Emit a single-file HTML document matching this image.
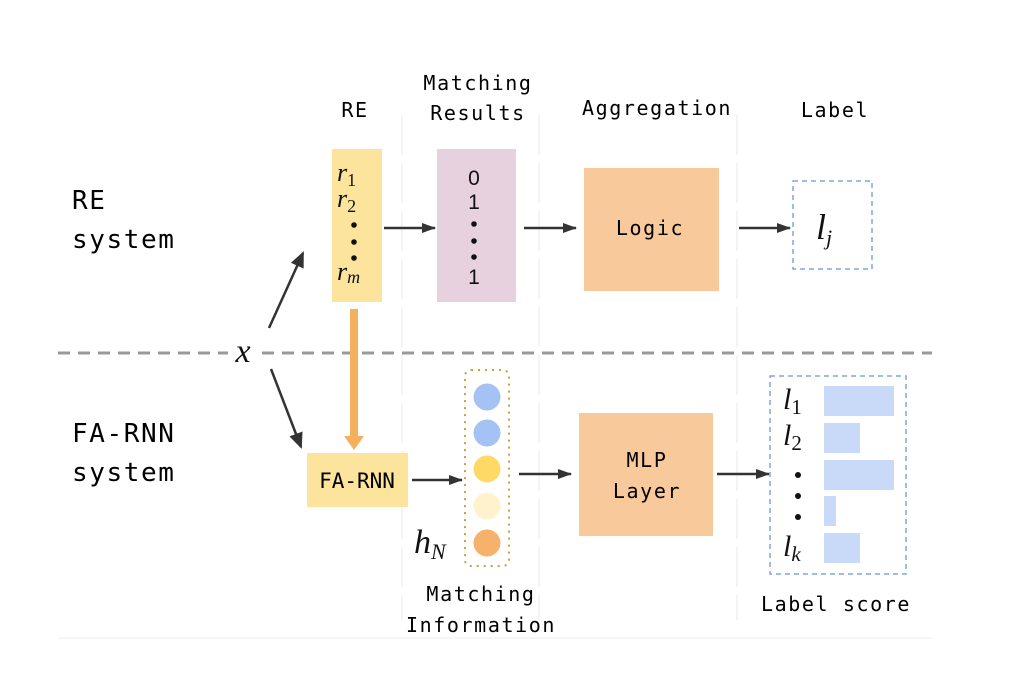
<!DOCTYPE html>
<html><head><meta charset="utf-8"><style>
html,body{margin:0;padding:0;background:#fff;width:1023px;height:681px;overflow:hidden}
svg{display:block}
.m{font-family:"DejaVu Sans Mono","Liberation Mono",monospace;fill:#000}
.h{font-size:20px;letter-spacing:1.6px}
.b{font-size:26px;letter-spacing:1.6px}
.s{font-family:"Liberation Serif",serif;font-style:italic;fill:#111}
.n{font-family:"Liberation Sans",sans-serif;fill:#111;font-size:21px}
</style></head><body>
<svg width="1023" height="681" viewBox="0 0 1023 681" xmlns="http://www.w3.org/2000/svg">
<defs>
<marker id="ar" markerWidth="14" markerHeight="10" refX="13" refY="5" orient="auto" markerUnits="userSpaceOnUse"><path d="M0,0 L14,5 L0,10 z" fill="#333"/></marker>
<marker id="arb" markerWidth="16" markerHeight="14" refX="14" refY="7" orient="auto" markerUnits="userSpaceOnUse"><path d="M0,0 L16,7 L0,14 z" fill="#333"/></marker>
</defs>
<g stroke="#f4f4f4" stroke-width="2" stroke-dasharray="40,8">
<line x1="402" y1="115" x2="402" y2="620"/>
<line x1="539" y1="115" x2="539" y2="620"/>
<line x1="737" y1="115" x2="737" y2="620"/>
</g>
<line x1="58" y1="638" x2="932" y2="638" stroke="#f4f4f4" stroke-width="1.5"/>
<text class="m h" x="355" y="117" text-anchor="middle">RE</text>
<text class="m h" x="478" y="90" text-anchor="middle">Matching</text>
<text class="m h" x="478" y="120" text-anchor="middle">Results</text>
<text class="m h" x="657" y="115" text-anchor="middle">Aggregation</text>
<text class="m h" x="835" y="117" text-anchor="middle">Label</text>
<text class="m b" x="72" y="209">RE</text>
<text class="m b" x="72" y="248">system</text>
<text class="m b" x="72" y="442">FA-RNN</text>
<text class="m b" x="72" y="481">system</text>
<line x1="58" y1="353" x2="228" y2="353" stroke="#9a9a9a" stroke-width="3" stroke-dasharray="12,8"/>
<line x1="262" y1="353" x2="932" y2="353" stroke="#9a9a9a" stroke-width="3" stroke-dasharray="12,8"/>
<text class="s" x="243" y="362" font-size="34" text-anchor="middle">x</text>
<line x1="269" y1="328" x2="303" y2="253" stroke="#333" stroke-width="2.5" marker-end="url(#arb)"/>
<line x1="271" y1="369" x2="301" y2="447" stroke="#333" stroke-width="2.5" marker-end="url(#arb)"/>
<rect x="332" y="149" width="50" height="153" fill="#fde49c"/>
<text class="s" x="337" y="181" font-size="26">r<tspan font-size="18" font-style="normal" dy="5">1</tspan></text>
<text class="s" x="337" y="207" font-size="26">r<tspan font-size="18" font-style="normal" dy="5">2</tspan></text>
<circle cx="354" cy="225" r="2.8" fill="#111"/><circle cx="354" cy="242" r="2.8" fill="#111"/><circle cx="354" cy="258" r="2.8" fill="#111"/>
<text class="s" x="337" y="280" font-size="26">r<tspan font-size="18" dy="3">m</tspan></text>
<line x1="354" y1="309" x2="354" y2="438" stroke="#f5b05e" stroke-width="8"/>
<path d="M344,436 L364,436 L354,450 z" fill="#f5b05e"/>
<rect x="437" y="149" width="79" height="153" fill="#e8d1df"/>
<text class="n" x="474" y="185" text-anchor="middle">0</text>
<text class="n" x="474" y="209" text-anchor="middle">1</text>
<circle cx="474" cy="224" r="2.8" fill="#111"/><circle cx="474" cy="241" r="2.8" fill="#111"/><circle cx="474" cy="257" r="2.8" fill="#111"/>
<text class="n" x="474" y="284" text-anchor="middle">1</text>
<line x1="384" y1="228" x2="435" y2="228" stroke="#333" stroke-width="2.5" marker-end="url(#ar)"/>
<line x1="524" y1="228" x2="576" y2="228" stroke="#333" stroke-width="2.5" marker-end="url(#ar)"/>
<rect x="584" y="168" width="135" height="123" fill="#f8c99b"/>
<text class="m h" x="650" y="235" text-anchor="middle">Logic</text>
<line x1="739" y1="228" x2="790" y2="228" stroke="#333" stroke-width="2.5" marker-end="url(#ar)"/>
<rect x="793" y="181" width="79" height="88" fill="none" stroke="#7da7e0" stroke-width="1.5" stroke-dasharray="5,4"/>
<text class="s" x="816" y="239" font-size="36">l<tspan font-size="22" dy="6">j</tspan></text>
<rect x="307" y="453" width="101" height="54" fill="#fde49c"/>
<text class="m" x="357" y="488" font-size="21" text-anchor="middle">FA-RNN</text>
<line x1="412" y1="480" x2="462" y2="480" stroke="#333" stroke-width="2.5" marker-end="url(#ar)"/>
<rect x="465" y="370" width="44" height="196" rx="6" fill="none" stroke="#c9a040" stroke-width="2" stroke-dasharray="2,5"/>
<circle cx="487" cy="397" r="13.5" fill="#a4c2f4"/>
<circle cx="487" cy="433" r="13.5" fill="#a4c2f4"/>
<circle cx="487" cy="469" r="13.5" fill="#ffd966"/>
<circle cx="487" cy="506" r="13.5" fill="#fff2cc"/>
<circle cx="487" cy="543" r="13.5" fill="#f6b26b"/>
<text class="s" x="414" y="553" font-size="34">h<tspan font-size="22" dy="6">N</tspan></text>
<text class="m h" x="481" y="601" text-anchor="middle">Matching</text>
<text class="m h" x="481" y="632" text-anchor="middle">Information</text>
<line x1="519" y1="474" x2="571" y2="474" stroke="#333" stroke-width="2.5" marker-end="url(#ar)"/>
<rect x="579" y="413" width="134" height="123" fill="#f8c99b"/>
<text class="m h" x="647" y="467" text-anchor="middle">MLP</text>
<text class="m h" x="647" y="498" text-anchor="middle">Layer</text>
<line x1="717" y1="474" x2="769" y2="474" stroke="#333" stroke-width="2.5" marker-end="url(#ar)"/>
<rect x="770" y="376" width="136" height="198" fill="none" stroke="#7da7e0" stroke-width="1.5" stroke-dasharray="5,4"/>
<rect x="824" y="386" width="70" height="30" fill="#c9daf8"/>
<rect x="824" y="423" width="36" height="30" fill="#c9daf8"/>
<rect x="824" y="460" width="70" height="30" fill="#c9daf8"/>
<rect x="824" y="496" width="12" height="30" fill="#c9daf8"/>
<rect x="824" y="533" width="36" height="30" fill="#c9daf8"/>
<text class="s" x="783" y="409" font-size="30">l<tspan font-size="21" font-style="normal" dy="5">1</tspan></text>
<text class="s" x="783" y="445" font-size="30">l<tspan font-size="21" font-style="normal" dy="5">2</tspan></text>
<circle cx="798" cy="475" r="3" fill="#111"/><circle cx="798" cy="496" r="3" fill="#111"/><circle cx="798" cy="517" r="3" fill="#111"/>
<text class="s" x="783" y="556" font-size="30">l<tspan font-size="21" dy="5">k</tspan></text>
<text class="m h" x="836" y="611" text-anchor="middle">Label score</text>
</svg>
</body></html>
